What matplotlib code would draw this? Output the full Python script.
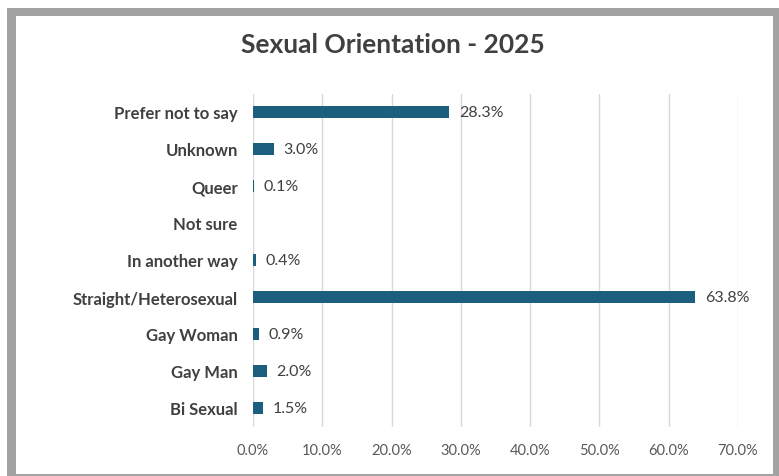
import matplotlib.pyplot as plt
from matplotlib.patches import Rectangle

# categories listed top to bottom
categories = ['Prefer not to say', 'Unknown', 'Queer', 'Not sure', 'In another way',
              'Straight/Heterosexual', 'Gay Woman', 'Gay Man', 'Bi Sexual']
values = [28.3, 3.0, 0.1, 0.0, 0.4, 63.8, 0.9, 2.0, 1.5]
xticks = [0, 10, 20, 30, 40, 50, 60, 70]

bar_color = '#1B5E7E'
text_color = '#404040'

plt.rcParams['font.family'] = ['Lato', 'DejaVu Sans']

fig = plt.figure(figsize=(7.79, 4.77), dpi=100)
W, H = 779, 477

# gray frame and white card
fig.patches.append(Rectangle((7 / W, 0), 1 - 7 / W, 1 - 9 / H, transform=fig.transFigure,
                             facecolor='#A3A3A3', edgecolor='none', zorder=-10))
fig.patches.append(Rectangle((16 / W, 2 / H), (773 - 16) / W, (475 - 17) / H,
                             transform=fig.transFigure, facecolor='white',
                             edgecolor='none', zorder=-9))

ax = fig.add_axes([253 / W, 1 - 427.5 / H, (738 - 253) / W, (427.5 - 94.5) / H])
ax.patch.set_alpha(0)
ax.set_zorder(5)

y = list(range(len(categories)))
ax.barh(y, values, height=0.35, color=bar_color, zorder=3)

for yi, v in zip(y, values):
    if v > 0:
        ax.annotate(f'{v:.1f}%', (v, yi), xytext=(7, 0), textcoords='offset points',
                    va='center', ha='left', fontsize=11.5, color=text_color)

ax.set_ylim(len(categories) - 0.5, -0.5)
ax.set_xlim(0, 70)
ax.set_yticks(y)
ax.set_yticklabels(categories, fontsize=12, fontweight='bold', color=text_color)
ax.set_xticks(xticks)
ax.set_xticklabels([f'{t:.1f}%' for t in xticks], fontsize=10.5, color='#595959')
ax.tick_params(axis='both', length=0)
ax.tick_params(axis='y', pad=11)
ax.tick_params(axis='x', pad=12)
ax.grid(axis='x', color='#D9D9D9', linewidth=1, zorder=0)
for s in ax.spines.values():
    s.set_visible(False)

fig.text(393 / W, 1 - 45 / H, 'Sexual Orientation - 2025', ha='center', va='center',
         fontsize=19, fontweight='bold', color=text_color)

fig.savefig('out.png', dpi=100)
